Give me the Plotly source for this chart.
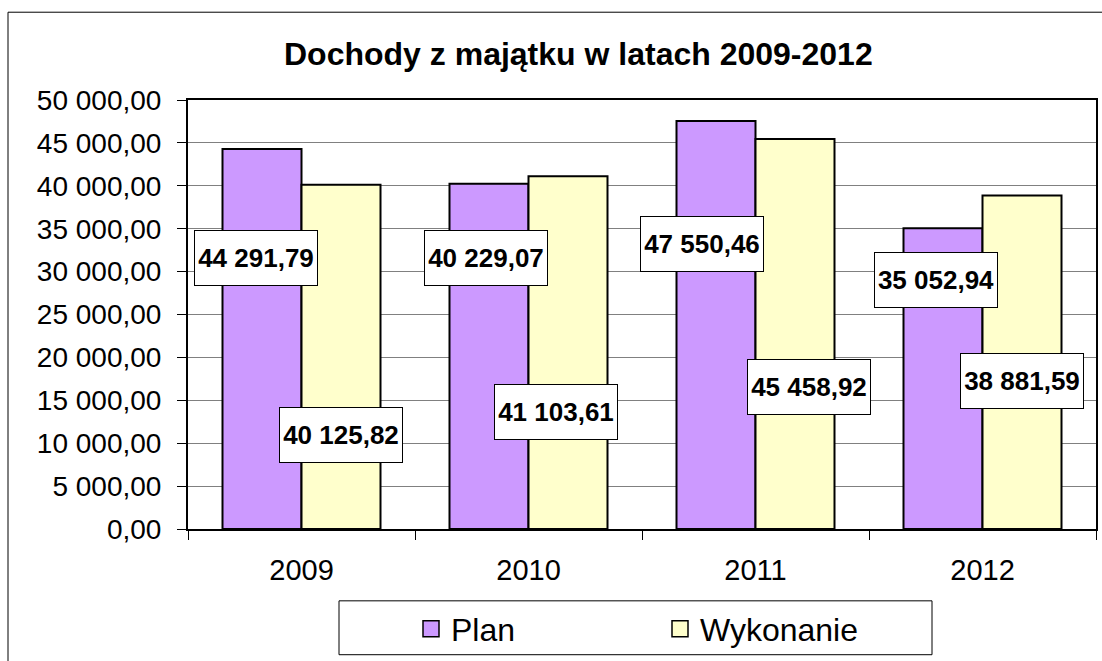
import plotly.graph_objects as go

# ---- data ----
years = ["2009", "2010", "2011", "2012"]
plan = [44291.79, 40229.07, 47550.46, 35052.94]
wykonanie = [40125.82, 41103.61, 45458.92, 38881.59]
series_names = ["Plan", "Wykonanie"]
title_text = "Dochody z majątku w latach 2009-2012"

# label placement (manually moved labels in the original): y in data units, x offset in px
plan_label_y = [31600, 31600, 33250, 29050]
plan_label_dx = [-6, -3, -14, -7]
wyk_label_y = [10900, 13600, 16600, 17200]
wyk_label_dx = [0, -12, 14, 0]

FONT = "Liberation Sans, Arial, sans-serif"
PLAN_COLOR = "#CC99FF"
WYK_COLOR = "#FFFFCC"

W, H = 1102, 661
ML, MR, MT, MB = 188, 6, 100, 131
PW, PH = W - ML - MR, H - MT - MB


def px_x(x):
    return (x - ML) / PW


def px_y(y):
    return 1 - (y - MT) / PH


def fmt(v):
    return f"{v:,.2f}".replace(",", " ").replace(".", ",")


fig = go.Figure()
fig.add_trace(go.Bar(x=years, y=plan, name=series_names[0], showlegend=False,
                     marker=dict(color=PLAN_COLOR, line=dict(color="black", width=2))))
fig.add_trace(go.Bar(x=years, y=wykonanie, name=series_names[1], showlegend=False,
                     marker=dict(color=WYK_COLOR, line=dict(color="black", width=2))))
# legend entries (square keys like the original)
for nm, col in ((series_names[0], PLAN_COLOR), (series_names[1], WYK_COLOR)):
    fig.add_trace(go.Scatter(x=[None], y=[None], mode="markers", name=nm, showlegend=True,
                             marker=dict(symbol="square", size=16, color=col,
                                         line=dict(color="black", width=1.5))))

bar_w = PW / len(years) * (1 - 0.304) / 2
annotations = []
for i, yr in enumerate(years):
    for vals, ly, dx, sgn in ((plan, plan_label_y, plan_label_dx, -1),
                              (wykonanie, wyk_label_y, wyk_label_dx, 1)):
        annotations.append(dict(
            x=i, y=ly[i], xref="x", yref="y", text="<b>" + fmt(vals[i]) + "</b>",
            showarrow=False, xshift=sgn * bar_w / 2 + dx[i],
            font=dict(family=FONT, size=26, color="black"),
            bgcolor="white", bordercolor="black", borderwidth=1, borderpad=1,
            width=120, height=52, align="center", valign="middle"))

shapes = [
    # outer chart frame (extends past the right/bottom edge of the picture)
    dict(type="rect", xref="paper", yref="paper", x0=px_x(8), x1=1.2,
         y0=-0.6, y1=px_y(12), line=dict(color="black", width=1), layer="below"),
    # legend box
    dict(type="rect", xref="paper", yref="paper", x0=px_x(339), x1=px_x(932),
         y0=px_y(656), y1=px_y(602), line=dict(color="black", width=1),
         fillcolor="white", layer="below"),
]

fig.update_layout(
    width=W, height=H, autosize=False,
    margin=dict(l=ML, r=MR, t=MT, b=MB, pad=0),
    paper_bgcolor="white", plot_bgcolor="white",
    separators=", ",
    font=dict(family=FONT, size=28, color="black"),
    barmode="group", bargap=0.304, bargroupgap=0,
    title=dict(text="<b>" + title_text + "</b>", font=dict(family=FONT, size=32, color="black"),
               x=284 / W, xanchor="left", xref="container",
               y=1 - 54 / H, yanchor="middle", yref="container"),
    showlegend=True,
    legend=dict(orientation="h", x=px_x(411), xanchor="left", y=px_y(629), yanchor="middle",
                bgcolor="rgba(0,0,0,0)", borderwidth=0, itemsizing="trace",
                font=dict(family=FONT, size=32, color="black"),
                entrywidth=204, entrywidthmode="pixels", traceorder="normal"),
    annotations=annotations,
    shapes=shapes,
)

fig.update_xaxes(type="category", range=[-0.5, len(years) - 0.5], tickson="boundaries",
                 ticks="outside", ticklen=9,
                 tickcolor="black", tickwidth=1, showgrid=False,
                 showline=True, linecolor="black", linewidth=2, mirror=True,
                 tickfont=dict(family=FONT, size=29, color="black"), tickangle=0,
                 ticklabelstandoff=14, automargin=False)
fig.update_yaxes(range=[0, 50000], dtick=5000, tick0=0, tickformat=",.2f",
                 ticks="outside", ticklen=9, tickcolor="black", tickwidth=1,
                 showgrid=True, gridcolor="#808080", gridwidth=1, zeroline=False,
                 showline=True, linecolor="black", linewidth=2, mirror=True,
                 tickfont=dict(family=FONT, size=28, color="black"),
                 ticklabelstandoff=10, automargin=False)

fig.write_html("out.html", config={"displayModeBar": False},
               post_script="document.body.style.margin='0';")
